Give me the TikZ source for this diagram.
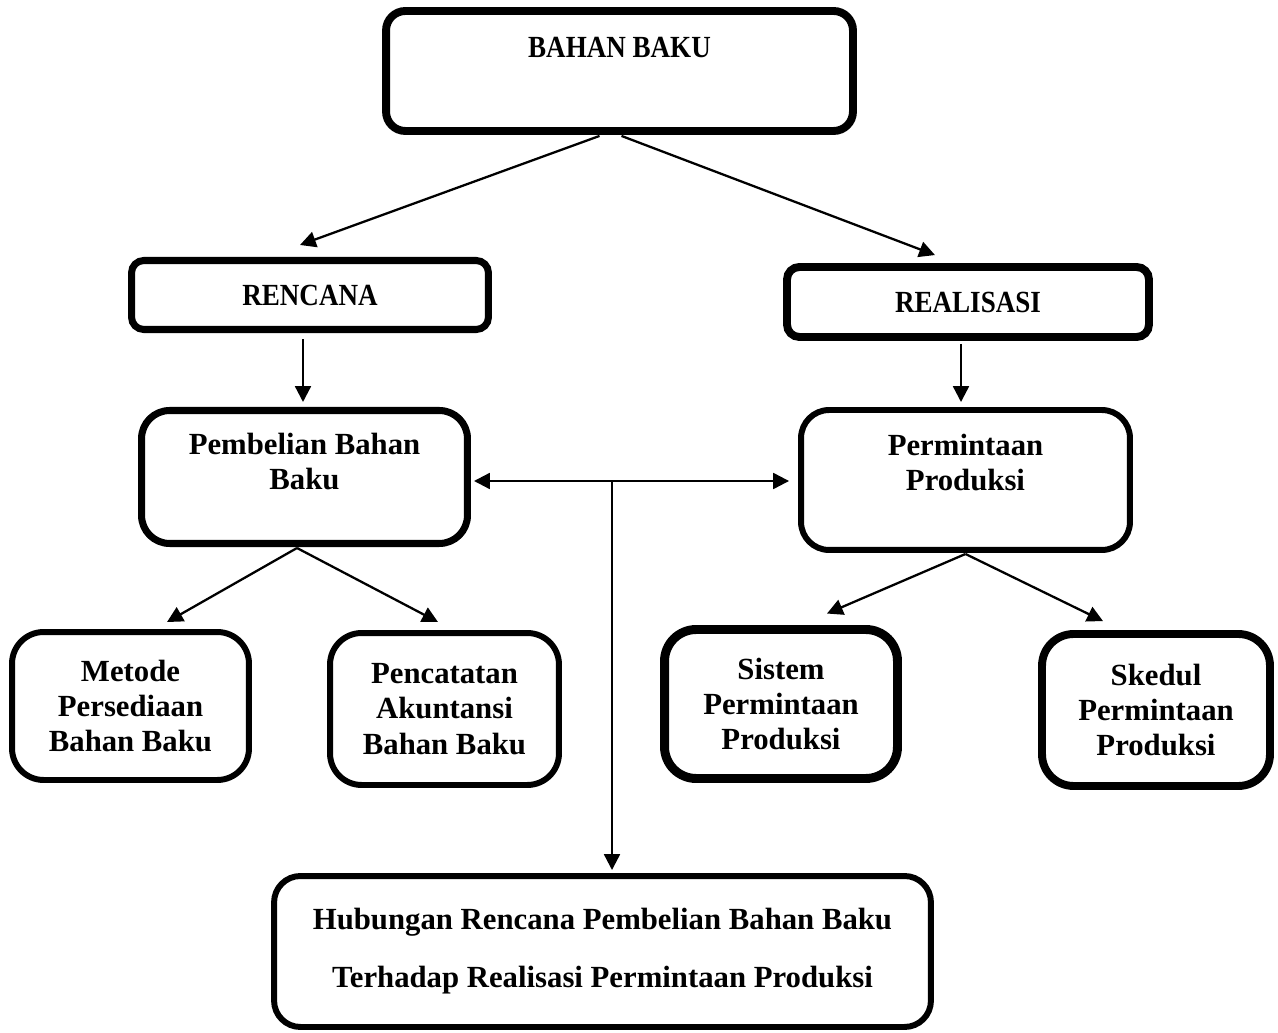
\documentclass[tikz,border=0pt]{standalone}
\usepackage{fontspec}
\setmainfont{Liberation Serif}
\newfontfamily\capsfont{Liberation Serif}[FakeStretch=0.88]
\usepackage{tikz}
\usetikzlibrary{arrows.meta,calc}

\begin{document}
\begin{tikzpicture}[x=0.02cm, y=-0.02cm, kotak/.style={draw=black, fill=white, line width=3.4pt, rounded corners=16pt, align=center, inner sep=0pt, font=\fontsize{17.5}{20}\selectfont\bfseries}, kotakjudul/.style={kotak, font=\fontsize{17.5}{20}\selectfont\capsfont\bfseries}, arr/.style={-{Triangle[length=9pt,width=9pt]}, line width=1.3pt}, arrdua/.style={{Triangle[length=9pt,width=9pt]}-{Triangle[length=9pt,width=9pt]}, line width=1.3pt}
]
  \useasboundingbox (0,0) rectangle (1278,1033);
  \node[kotakjudul, line width=4.5pt, rounded corners=11pt, minimum width=9.34cm, minimum height=2.40cm, text height=12pt, text depth=27.9pt] (bb) at (619.5,71) {BAHAN BAKU};
  \node[kotakjudul, line width=4pt, rounded corners=7pt, minimum width=7.14cm, minimum height=1.38cm] (ren) at (310,295) {RENCANA};
  \node[kotakjudul, line width=4.5pt, rounded corners=7pt, minimum width=7.24cm, minimum height=1.40cm] (rl) at (968,302) {REALISASI};
  \node[kotak, line width=4pt, minimum width=6.52cm, minimum height=2.66cm] (pb) at (304.5,477) {Pembelian Bahan\\Baku\\[-2.4pt]\mbox{}};
  \node[kotak, minimum width=6.58cm, minimum height=2.80cm] (pm) at (965.5,480) {Permintaan\\Produksi\\[0pt]\mbox{}};
  \node[kotak, rounded corners=18pt, minimum width=4.74cm, minimum height=2.96cm] (mt) at (130.5,706) {Metode\\Persediaan\\Bahan Baku};
  \node[kotak, rounded corners=18pt, minimum width=4.58cm, minimum height=3.04cm] (pc) at (444.5,709) {Pencatatan\\Akuntansi\\Bahan Baku};
  \node[kotak, line width=5.1pt, rounded corners=18pt, minimum width=4.66cm, minimum height=2.98cm] (ss) at (781,704) {Sistem\\Permintaan\\Produksi};
  \node[kotak, line width=4.5pt, rounded corners=18pt, minimum width=4.56cm, minimum height=3.04cm] (sk) at (1156,710) {Skedul\\Permintaan\\Produksi};
  \node[kotak, rounded corners=15pt, minimum width=13.14cm, minimum height=3.02cm] (hb) at (602.5,951.5) {Hubungan Rencana Pembelian Bahan Baku\\[13pt]Terhadap Realisasi Permintaan Produksi};
  \coordinate (jn) at (612,481);
  \draw[arr] ($(bb.south)+(-20,1)$) -- ($(ren.north)+(-10,-12)$);
  \draw[arr] ($(bb.south)+(2,1)$) -- ($(rl.north)+(-33,-8)$);
  \draw[arr] ($(ren.south)+(-7,6)$) -- ($(pb.north)+(-1.5,-5)$);
  \draw[arr] ($(rl.south)+(-7,3)$) -- ($(pm.north)+(-4.5,-5)$);
  \draw[arrdua] ($(pb.east|-jn)+(3,0)$) -- ($(pm.west|-jn)+(-9,0)$);
  \draw[arr] (jn) -- ($(jn|-hb.north)+(0,-3)$);
  \draw[arr] ($(pb.south)+(-7.5,1)$) -- ($(mt.north)+(36.5,-7)$);
  \draw[arr] ($(pb.south)+(-7.5,1)$) -- ($(pc.north)+(-6.5,-8)$);
  \draw[arr] ($(pm.south)+(0,1)$) -- ($(ss.north)+(46,-11.5)$);
  \draw[arr] ($(pm.south)+(0,1)$) -- ($(sk.north)+(-53,-9)$);
\end{tikzpicture}
\end{document}
